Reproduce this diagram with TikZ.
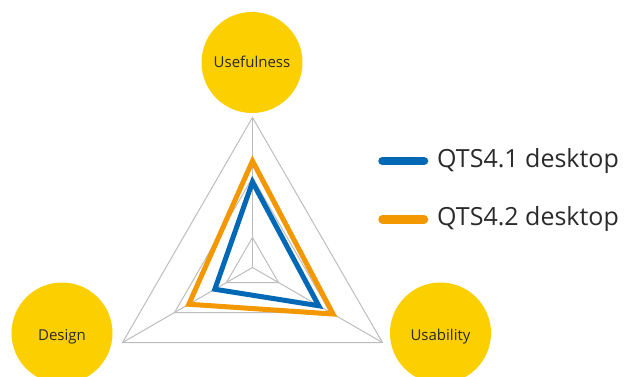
\documentclass[tikz,border=0pt]{standalone}
\usepackage{fontspec}
\setmainfont{Open Sans}
\usetikzlibrary{calc}
\definecolor{ybg}{HTML}{FCCF00}
\definecolor{qblue}{HTML}{0068B4}
\definecolor{qorange}{HTML}{F39800}
\definecolor{gridgrey}{HTML}{BDBDBD}
\definecolor{txt}{HTML}{2A2A2A}
\tikzset{
  axiscircle/.style={circle, fill=ybg, minimum size=101pt, inner sep=0pt},
  axislabel/.style={inner sep=0pt, text=txt, text height=10.7pt, text depth=0pt, font=\fontsize{15}{18}\selectfont},
  gridline/.style={draw=gridgrey, line width=1pt, line join=miter},
  dataline/.style={line width=5pt, line join=miter},
  legendline/.style={line width=8.5pt, line cap=round},
  legendtext/.style={anchor=west, inner sep=0pt, text=txt, font=\fontsize{25}{30}\selectfont}
}
\begin{document}
\begin{tikzpicture}[x=1pt,y=1pt]
\useasboundingbox (0,0) rectangle (638,376);
\clip (0,0) rectangle (638,376);
% circles
\node[axiscircle] (useful) at (252,313.5) {};
\node[axiscircle] (design) at (62,43) {};
\node[axiscircle] (usab) at (440.5,43) {};
\node[axislabel] (usefullabel) at ($(useful)+(0,0.5)$) {Usefulness};
\node[axislabel] (designlabel) at ($(design)+(0,-2.5)$) {Design};
\node[axislabel] (usablabel) at ($(usab)+(0,-2.5)$) {Usability};
% radar
\coordinate (c) at (252.5,108.5);
\foreach \r in {0.2,0.6,1.0} {
  \draw[gridline] ($(c)+(90:150*\r)$) -- ($(c)+(210:150*\r)$) -- ($(c)+(330:150*\r)$) -- cycle;
}
\coordinate (ta) at ($(c)+(90:150)$);
\coordinate (la) at ($(c)+(210:150)$);
\coordinate (ra) at ($(c)+(330:150)$);
\draw[gridline] (c) -- (ta);
\draw[gridline] (c) -- (la);
\draw[gridline] (c) -- (ra);
\draw[dataline, draw=qorange] ($(c)+(90:150*0.71)$) -- ($(c)+(210:150*0.49)$) -- ($(c)+(330:150*0.62)$) -- cycle;
\draw[dataline, draw=qblue] ($(c)+(90:150*0.57)$) -- ($(c)+(210:150*0.29)$) -- ($(c)+(330:150*0.51)$) -- cycle;
% legend
\coordinate (b1) at (382.5,215);
\coordinate (b2) at (424,215);
\coordinate (o1) at (382.5,156.7);
\coordinate (o2) at (424,156.7);
\draw[legendline, draw=qblue] (b1) -- (b2);
\draw[legendline, draw=qorange] (o1) -- (o2);
\node[legendtext] (lb) at (437,215) {QTS4.1 desktop};
\node[legendtext] (lo) at (437,156.7) {QTS4.2 desktop};
\end{tikzpicture}
\end{document}
